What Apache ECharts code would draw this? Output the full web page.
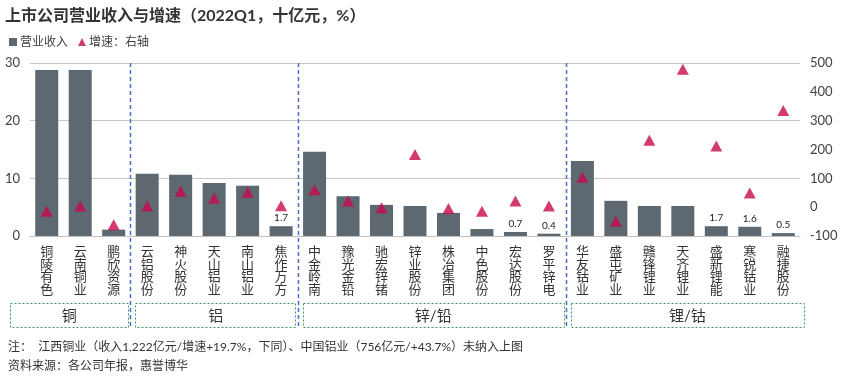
<!DOCTYPE html>
<html>
<head>
<meta charset="utf-8">
<script src="https://cdn.jsdelivr.net/npm/echarts@6/dist/echarts.min.js"></script>
<style>
  html, body { margin: 0; padding: 0; background: #fff; }
  #chart { width: 842px; height: 377px; }
</style>
</head>
<body>
<div id="chart"></div>
<script>
const categories = [
    '铜陵有色', '云南铜业', '鹏欣资源',
    '云铝股份', '神火股份', '天山铝业', '南山铝业', '焦作万方',
    '中金岭南', '豫光金铅', '驰宏锌锗', '锌业股份', '株冶集团', '中色股份', '宏达股份', '罗平锌电',
    '华友钴业', '盛屯矿业', '赣锋锂业', '天齐锂业', '盛新锂能', '寒锐钴业', '融捷股份'
];
// revenue, 十亿元 (left axis)
const revenue = [
    28.8, 28.8, 1.1,
    10.8, 10.6, 9.2, 8.7, 1.7,
    14.6, 6.9, 5.4, 5.2, 4.0, 1.2, 0.7, 0.4,
    13.0, 6.1, 5.2, 5.2, 1.7, 1.6, 0.5
];
// growth, % (right axis)
const growth = [
    -14, 4, -61,
    4, 55, 32, 52, 5,
    60, 21, -2, 183, -5, -14, 21, 4,
    104, -49, 232, 478, 212, 49, 335
];
// bars that carry a value label
const labelledBars = [7, 14, 15, 20, 21, 22];
const groupNames = ['铜', '铝', '锌/铅', '锂/钴'];
const groupSizes = [3, 5, 8, 7];

const leftTicks = { min: 0, max: 30, interval: 10 };
const rightTicks = { min: -100, max: 500, interval: 100 };

const FONT = 'Lato, "Noto Sans CJK SC", sans-serif';
const BAR_COLOR = '#5d6870';
const TRI_COLOR = '#c8094c';

const chart = echarts.init(document.getElementById('chart'));

const option = {
    animation: false,
    textStyle: { fontFamily: FONT },
    title: {
        text: '上市公司营业收入与增速（2022Q1，十亿元，%）',
        left: 0,
        top: 3,
        textStyle: { fontSize: 16, fontWeight: 'bold', color: '#333', fontFamily: FONT }
    },
    legend: {
        left: 4,
        top: 31,
        itemWidth: 8,
        itemHeight: 8,
        itemGap: 10,
        textStyle: { fontSize: 12, color: '#404040', fontFamily: FONT, padding: [0, 0, 0, -2] },
        data: [
            { name: '营业收入', icon: 'rect' },
            { name: '增速：右轴', icon: 'triangle' }
        ]
    },
    grid: { left: 30, right: 42, top: 63, bottom: 141, containLabel: false },
    xAxis: {
        type: 'category',
        data: categories,
        axisLine: { lineStyle: { color: '#c0c0c0' } },
        axisTick: { show: false },
        axisLabel: {
            interval: 0,
            margin: 10,
            fontSize: 13,
            lineHeight: 12.5,
            color: '#333',
            fontFamily: FONT,
            formatter: v => v.split('').join('\n')
        }
    },
    yAxis: [
        {
            type: 'value',
            ...leftTicks,
            axisLine: { show: false },
            axisTick: { show: false },
            axisLabel: { fontSize: 13, color: '#404040', margin: 10, fontFamily: FONT },
            splitLine: { lineStyle: { color: '#c8c8c8' } }
        },
        {
            type: 'value',
            ...rightTicks,
            position: 'right',
            axisLine: { show: false },
            axisTick: { show: false },
            axisLabel: { fontSize: 13, color: '#404040', margin: 10, fontFamily: FONT },
            splitLine: { show: false }
        }
    ],
    series: [
        {
            name: '营业收入',
            type: 'bar',
            barWidth: 23,
            itemStyle: { color: BAR_COLOR },
            data: revenue.map((v, i) => ({
                value: v,
                label: {
                    show: labelledBars.includes(i),
                    position: 'top',
                    distance: 3,
                    fontSize: 10,
                    color: '#222',
                    fontFamily: FONT
                }
            }))
        },
        {
            name: '增速：右轴',
            type: 'scatter',
            yAxisIndex: 1,
            symbol: 'triangle',
            symbolSize: [12, 11],
            itemStyle: { color: TRI_COLOR },
            data: growth,
            z: 5
        }
    ]
};

chart.setOption(option);

// separators, group boxes and notes, placed from the category scale
function drawAnnotations() {
    const centers = categories.map((c, i) => chart.convertToPixel({ xAxisIndex: 0 }, i));
    const step = centers[1] - centers[0];
    const gridTop = chart.convertToPixel({ yAxisIndex: 0 }, leftTicks.max);
    const gridBottom = chart.convertToPixel({ yAxisIndex: 0 }, leftTicks.min);
    const plotLeft = centers[0] - step / 2;
    const plotRight = centers[centers.length - 1] + step / 2;

    const elements = [];
    const bounds = [];
    let idx = 0;
    groupSizes.forEach(n => {
        bounds.push(centers[idx] - step / 2);
        idx += n;
    });
    bounds.push(plotRight);

    for (let g = 1; g < groupSizes.length; g++) {
        const x = Math.round(bounds[g]) + 0.5;
        elements.push({
            type: 'line',
            shape: { x1: x, y1: gridTop, x2: x, y2: gridBottom + 93 },
            style: { stroke: '#4a6fbf', lineWidth: 1.5, lineDash: [4, 3] },
            z: 10
        });
    }

    groupNames.forEach((name, g) => {
        const x0 = g === 0 ? plotLeft - 20 : bounds[g] + 5;
        const x1 = g === groupNames.length - 1 ? plotRight + 4 : bounds[g + 1] - 2;
        const y0 = gridBottom + 67;
        const h = 24;
        elements.push({
            type: 'rect',
            shape: { x: Math.round(x0) + 0.5, y: y0 + 0.5, width: Math.round(x1 - x0), height: h },
            style: { fill: 'none', stroke: '#3f9a5f', lineWidth: 1, lineDash: [2, 2] },
            z: 10
        });
        elements.push({
            type: 'text',
            x: (x0 + x1) / 2,
            y: y0 + h / 2 + 1,
            style: {
                text: name,
                fontSize: 15,
                fill: '#333',
                fontFamily: FONT,
                align: 'center',
                verticalAlign: 'middle'
            },
            z: 10
        });
    });

    elements.push({
        type: 'text',
        left: 8,
        top: 341,
        style: {
            text: '注：  江西铜业（收入1,222亿元/增速+19.7%，下同）、中国铝业（756亿元/+43.7%）未纳入上图',
            fontSize: 12,
            fill: '#333',
            fontFamily: FONT
        }
    });
    elements.push({
        type: 'text',
        left: 8,
        top: 360,
        style: {
            text: '资料来源：各公司年报，惠誉博华',
            fontSize: 12,
            fill: '#333',
            fontFamily: FONT
        }
    });

    chart.setOption({ graphic: { elements: elements } });
}

drawAnnotations();
</script>
</body>
</html>
